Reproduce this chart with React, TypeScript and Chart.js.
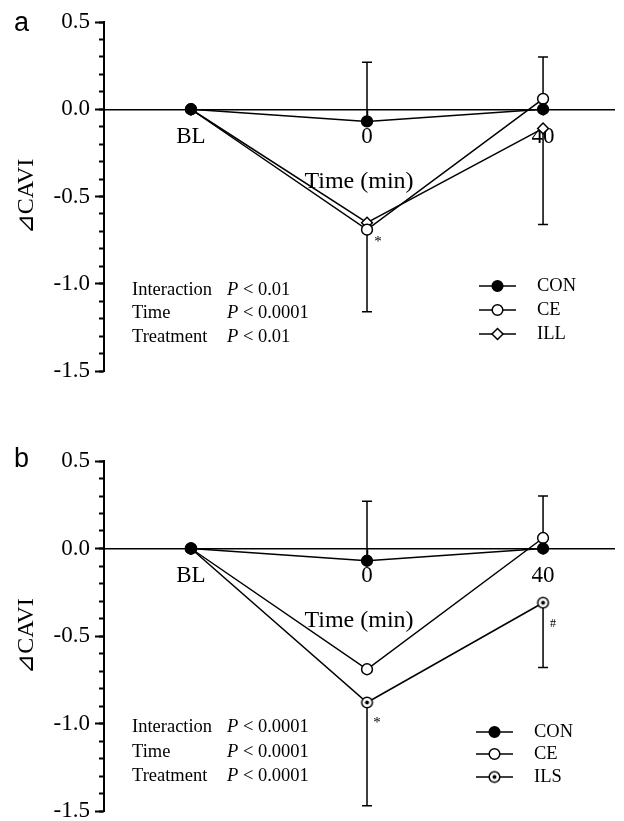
import React, { useEffect, useRef } from 'react';
import { Chart, registerables } from 'chart.js';

Chart.register(...registerables);

// ---------- data ----------
const timeLabels = ['BL', '0', '40'];

// panel a
const conA = [0, -0.07, 0.0];
const ceA = [0, -0.69, 0.06];
const illA = [0, -0.65, -0.11];
const conAErr = [null, 0.27, null];
const ceAErr = [null, null, 0.3];
const illAErr = [null, -1.16, -0.66];

// panel b
const conB = [0, -0.07, 0.0];
const ceB = [0, -0.69, 0.06];
const ilsB = [0, -0.88, -0.31];
const conBErr = [null, 0.27, null];
const ceBErr = [null, null, 0.3];
const ilsBErr = [null, -1.47, -0.68];

const statsA = [
  ['Interaction', '< 0.01'],
  ['Time', '< 0.0001'],
  ['Treatment', '< 0.01'],
];
const statsB = [
  ['Interaction', '< 0.0001'],
  ['Time', '< 0.0001'],
  ['Treatment', '< 0.0001'],
];

// significance marks: [text, x value, y value]
const marksA: [string, number, number][] = [['*', 1.062, -0.76]];
const marksB: [string, number, number][] = [
  ['*', 1.057, -1.0],
  ['#', 2.057, -0.43],
];

// ---------- style ----------
const SERIF = "'Liberation Serif', 'Times New Roman', serif";
const SANS = "'Liberation Sans', Arial, sans-serif";
const X_MIN = -0.494;
const X_MAX = 2.403;
const Y_MIN = -1.5;
const Y_MAX = 0.5;

let dotCircleCanvas: HTMLCanvasElement | null = null;
function dotCircle(): HTMLCanvasElement {
  if (dotCircleCanvas) return dotCircleCanvas;
  const c = document.createElement('canvas');
  c.width = 15;
  c.height = 15;
  const g = c.getContext('2d')!;
  g.beginPath();
  g.arc(7.5, 7.5, 5.3, 0, Math.PI * 2);
  g.fillStyle = '#fff';
  g.fill();
  g.lineWidth = 1.5;
  g.strokeStyle = '#000';
  g.stroke();
  g.beginPath();
  g.arc(7.5, 7.5, 2, 0, Math.PI * 2);
  g.fillStyle = '#000';
  g.fill();
  dotCircleCanvas = c;
  return c;
}

type Series = { label: string; values: number[]; errTo: (number | null)[]; kind: string };

function styleFor(kind: string) {
  if (kind === 'filled') return { pointStyle: 'circle' as any, bg: '#000' };
  if (kind === 'open') return { pointStyle: 'circle' as any, bg: '#fff' };
  if (kind === 'diamond') return { pointStyle: 'rectRot' as any, bg: '#fff' };
  return { pointStyle: dotCircle() as any, bg: '#fff' };
}

function drawMarker(ctx: CanvasRenderingContext2D, kind: string, x: number, y: number) {
  ctx.save();
  ctx.lineWidth = 1.5;
  ctx.strokeStyle = '#000';
  if (kind === 'dotcircle') {
    const img = dotCircle();
    ctx.drawImage(img, x - img.width / 2, y - img.height / 2);
  } else if (kind === 'diamond') {
    const r = 5.5;
    ctx.beginPath();
    ctx.moveTo(x - r, y);
    ctx.lineTo(x, y - r);
    ctx.lineTo(x + r, y);
    ctx.lineTo(x, y + r);
    ctx.closePath();
    ctx.fillStyle = '#fff';
    ctx.fill();
    ctx.stroke();
  } else {
    ctx.beginPath();
    ctx.arc(x, y, 5.3, 0, Math.PI * 2);
    ctx.fillStyle = kind === 'filled' ? '#000' : '#fff';
    ctx.fill();
    ctx.stroke();
  }
  ctx.restore();
}

const errorBarPlugin = {
  id: 'errorBars',
  beforeDatasetsDraw(chart: any) {
    const { ctx, scales } = chart;
    const x = scales.x;
    const y = scales.y;
    ctx.save();
    ctx.strokeStyle = '#000';
    ctx.lineWidth = 1.5;
    chart.data.datasets.forEach((ds: any) => {
      (ds.errTo || []).forEach((end: number | null, i: number) => {
        if (end == null) return;
        const px = x.getPixelForValue(i);
        const py0 = y.getPixelForValue(ds.data[i].y);
        const py1 = y.getPixelForValue(end);
        ctx.beginPath();
        ctx.moveTo(px, py0);
        ctx.lineTo(px, py1);
        ctx.moveTo(px - 5, py1);
        ctx.lineTo(px + 5, py1);
        ctx.stroke();
      });
    });
    ctx.restore();
  },
};

type PanelCfg = {
  letter: string;
  series: Series[];
  stats: string[][];
  marks: [string, number, number][];
  padTop: number;
  padBottom: number;
  letterY: number;
  legendY: number[];
  legendX: number; // line start, relative to chart left
  statsY: number[];
};

function makeAnnotPlugin(p: PanelCfg) {
  return {
    id: 'annot',
    afterDraw(chart: any) {
      const { ctx, chartArea, scales } = chart;
      const L = chartArea.left;
      const T = chartArea.top;
      ctx.save();
      // panel letter
      ctx.fillStyle = '#000';
      ctx.font = `27px ${SANS}`;
      ctx.textAlign = 'left';
      ctx.textBaseline = 'middle';
      ctx.fillText(p.letter, 14, p.letterY);

      // stats text
      p.stats.forEach((row, i) => {
        const yy = T + p.statsY[i];
        ctx.font = `18.5px ${SERIF}`;
        ctx.textAlign = 'left';
        ctx.fillText(row[0], L + 28, yy);
        ctx.font = `italic 18.5px ${SERIF}`;
        ctx.fillText('P', L + 123, yy);
        const pw = ctx.measureText('P ').width;
        ctx.font = `18.5px ${SERIF}`;
        ctx.fillText(row[1], L + 123 + pw, yy);
      });

      // legend
      p.series.forEach((s, i) => {
        const yy = T + p.legendY[i];
        const x1 = L + p.legendX;
        const x2 = x1 + 37;
        ctx.strokeStyle = '#000';
        ctx.lineWidth = 1.5;
        ctx.beginPath();
        ctx.moveTo(x1, yy);
        ctx.lineTo(x2, yy);
        ctx.stroke();
        drawMarker(ctx, s.kind, (x1 + x2) / 2, yy);
        ctx.fillStyle = '#000';
        ctx.font = `18.5px ${SERIF}`;
        ctx.textAlign = 'left';
        ctx.textBaseline = 'middle';
        ctx.fillText(s.label, x2 + 21, yy);
      });

      // significance marks
      p.marks.forEach(([t, xv, yv]) => {
        ctx.font = `${t === '#' ? 12 : 15}px ${SERIF}`;
        ctx.textAlign = 'center';
        ctx.textBaseline = 'middle';
        ctx.fillText(t, scales.x.getPixelForValue(xv), scales.y.getPixelForValue(yv));
      });
      ctx.restore();
    },
  };
}

function buildConfig(p: PanelCfg): any {
  const tickFont = { family: SERIF, size: 23 };
  const titleFont = { family: SERIF, size: 24 };
  return {
    type: 'line',
    data: {
      datasets: p.series.map((s) => {
        const st = styleFor(s.kind);
        return {
          label: s.label,
          data: s.values.map((v, i) => ({ x: i, y: v })),
          errTo: s.errTo,
          borderColor: '#000',
          borderWidth: 1.5,
          pointStyle: st.pointStyle,
          pointRadius: 5.4,
          pointBackgroundColor: st.bg,
          pointBorderColor: '#000',
          pointBorderWidth: 1.5,
          tension: 0,
          fill: false,
        };
      }),
    },
    options: {
      animation: false,
      responsive: false,
      devicePixelRatio: 1,
      events: [],
      layout: { padding: { top: p.padTop, bottom: p.padBottom, left: 0, right: 10 } },
      plugins: { legend: { display: false }, tooltip: { enabled: false } },
      scales: {
        x: {
          type: 'linear',
          min: X_MIN,
          max: X_MAX,
          position: { y: 0 },
          afterBuildTicks: (s: any) => {
            s.ticks = timeLabels.map((_, i) => ({ value: i }));
          },
          ticks: {
            callback: (v: number) => timeLabels[v] ?? '',
            font: tickFont,
            color: '#000',
            padding: 9,
            maxRotation: 0,
            autoSkip: false,
          },
          grid: { drawOnChartArea: false, drawTicks: true, tickLength: 5, tickWidth: 1.5, tickColor: '#000' },
          border: { display: true, color: '#000', width: 1.5 },
          title: { display: true, text: 'Time (min)', font: titleFont, color: '#000', padding: { top: 7, bottom: 0 } },
        },
        y: {
          type: 'linear',
          min: Y_MIN,
          max: Y_MAX,
          position: 'left',
          afterFit: (s: any) => {
            s.width = 104;
          },
          ticks: {
            stepSize: 0.5,
            callback: (v: number) => Number(v).toFixed(1),
            font: tickFont,
            color: '#000',
            padding: 5,
          },
          grid: { drawOnChartArea: false, tickLength: 9, tickWidth: 2, tickColor: '#000' },
          border: { color: '#000', width: 2 },
          title: { display: true, text: '⊿CAVI', font: titleFont, color: '#000', padding: { top: 12, bottom: 0 } },
        },
        yMinor: {
          type: 'linear',
          axis: 'y',
          min: Y_MIN,
          max: Y_MAX,
          position: { x: X_MIN },
          ticks: { stepSize: 0.1, display: false },
          grid: { drawOnChartArea: false, tickLength: 5, tickWidth: 2, tickColor: '#000' },
          border: { display: false },
        },
      },
    },
    plugins: [errorBarPlugin, makeAnnotPlugin(p)],
  };
}

const panelA: PanelCfg = {
  letter: 'a',
  series: [
    { label: 'CON', values: conA, errTo: conAErr, kind: 'filled' },
    { label: 'CE', values: ceA, errTo: ceAErr, kind: 'open' },
    { label: 'ILL', values: illA, errTo: illAErr, kind: 'diamond' },
  ],
  stats: statsA,
  marks: marksA,
  padTop: 22,
  padBottom: 39,
  letterY: 24,
  legendY: [264, 288, 312],
  legendX: 375,
  statsY: [268, 291, 315],
};

const panelB: PanelCfg = {
  letter: 'b',
  series: [
    { label: 'CON', values: conB, errTo: conBErr, kind: 'filled' },
    { label: 'CE', values: ceB, errTo: ceBErr, kind: 'open' },
    { label: 'ILS', values: ilsB, errTo: ilsBErr, kind: 'dotcircle' },
  ],
  stats: statsB,
  marks: marksB,
  padTop: 51,
  padBottom: 29,
  letterY: 50,
  legendY: [271, 293, 316],
  legendX: 372,
  statsY: [266, 291, 315],
};

function Panel({ cfg, top, height }: { cfg: PanelCfg; top: number; height: number }) {
  const ref = useRef<HTMLCanvasElement | null>(null);
  useEffect(() => {
    if (!ref.current) return;
    const chart = new Chart(ref.current, buildConfig(cfg));
    return () => chart.destroy();
  }, [cfg]);
  return (
    <canvas
      ref={ref}
      width={624}
      height={height}
      style={{ position: 'absolute', left: 0, top, width: 624, height, display: 'block' }}
    />
  );
}

export default function App() {
  return (
    <div
      style={{
        position: 'absolute',
        left: 0,
        top: 0,
        width: 624,
        height: 821,
        overflow: 'hidden',
        background: '#fff',
      }}
    >
      <Panel cfg={panelA} top={0} height={410} />
      <Panel cfg={panelB} top={410} height={430} />
    </div>
  );
}
